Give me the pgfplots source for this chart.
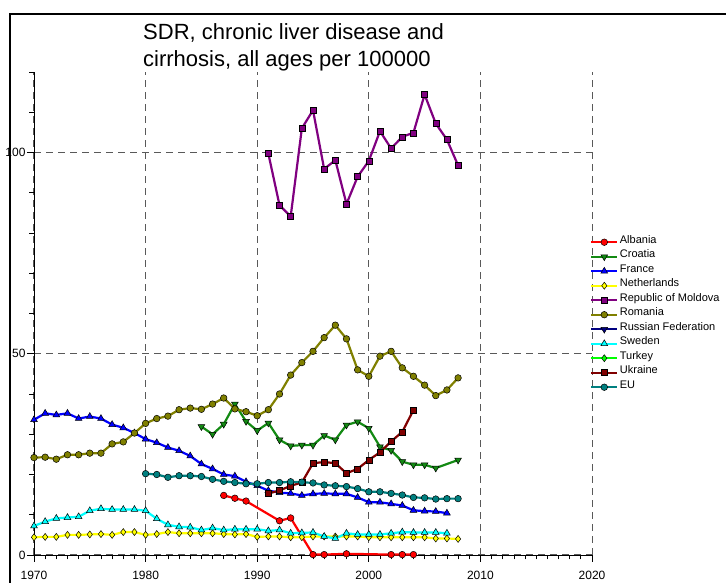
\documentclass[border=0pt]{standalone}
\usepackage{pgfplots}
\pgfplotsset{compat=1.18}
\usepackage{fontspec}
\setmainfont{Liberation Sans}
\definecolor{cAlb}{HTML}{FF0000}
\definecolor{cCro}{HTML}{138A13}
\definecolor{cFra}{HTML}{0000FF}
\definecolor{cNet}{HTML}{FFFF00}
\definecolor{cMol}{HTML}{800080}
\definecolor{cRom}{HTML}{808000}
\definecolor{cRus}{HTML}{000080}
\definecolor{cSwe}{HTML}{00FFFF}
\definecolor{cTur}{HTML}{00FF00}
\definecolor{cUkr}{HTML}{800000}
\definecolor{cEU}{HTML}{008080}
\pgfplotsset{mk/.style={mark options={solid, draw=black, line width=0.5pt, fill=#1}},
  mkd/.style={mark options={solid, draw=black, line width=0.5pt, fill=#1, rotate=180}}}
\newcommand{\tl}{\fontsize{12}{14}\selectfont}
\begin{document}
\begin{tikzpicture}
\useasboundingbox (-34pt,-28pt) rectangle (692pt,555pt);
\begin{axis}[
  scale only axis, width=558pt, height=483pt,
  xmin=1970, xmax=2020, ymin=0, ymax=120,
  axis x line=bottom, axis y line=left,
  axis line style={-, black, line width=0.8pt},
  xtick={1970,1980,...,2020}, minor x tick num=9,
  ytick={0,50,100}, minor ytick={10,20,30,40,60,70,80,90,110,120},
  xticklabels={{\tl 1970},{\tl 1980},{\tl 1990},{\tl 2000},{\tl 2010},{\tl 2020}},
  yticklabels={{\tl 0},{\tl 50},{\tl 100}},
  tick align=outside, major tick length=7pt, minor tick length=4.5pt,
  tick style={black, line width=0.7pt},
  xmajorgrids, ymajorgrids,
  major grid style={dash pattern=on 7pt off 5pt, color=black!65, line width=1pt},
  xticklabel style={yshift=-6pt},
  yticklabel style={xshift=2pt},
  clip=false,
  legend style={draw=none, fill=none, at={(0.9964,0.6630)}, anchor=north west,
    inner sep=0pt, row sep=0pt, font=\fontsize{11}{12}\selectfont,
    nodes={inner ysep=0pt, inner xsep=1.5pt, text height=8.5pt, text depth=6pt}},
  legend cell align=left,
  legend image code/.code={\draw[mark repeat=2,mark phase=2] plot coordinates {(0pt,0pt) (13pt,0pt) (26pt,0pt)};},
  every axis plot/.append style={line width=2.2pt},
]
% Albania
\addplot[color=cAlb, mark=*, mark size=3.3pt, mk=cAlb] coordinates {
(1987,14.8) (1988,14.1) (1989,13.4) (1992,8.5) (1993,9.2) (1995,0.1) (1996,0.1) (1998,0.3) (2002,0.1) (2003,0.1) (2004,0.1)};
% Croatia
\addplot[color=cCro, mark=triangle*, mark size=3.9pt, mkd=cCro] coordinates {
(1985,31.9) (1986,30.0) (1987,32.5) (1988,37.5) (1989,33.2) (1990,30.9) (1991,32.8) (1992,28.6) (1993,27.1) (1994,27.3) (1995,27.3) (1996,29.7) (1997,28.6) (1998,32.3) (1999,33.1) (2000,31.5) (2001,26.9) (2002,26.0) (2003,23.2) (2004,22.4) (2005,22.4) (2006,21.6) (2008,23.6)};
% France
\addplot[color=cFra, mark=triangle*, mark size=3.9pt, mk=cFra] coordinates {
(1970,33.6) (1971,35.2) (1972,34.8) (1973,35.2) (1974,33.9) (1975,34.4) (1976,33.9) (1977,32.4) (1978,31.6) (1979,30.3) (1980,28.8) (1981,27.9) (1982,26.7) (1983,25.9) (1984,24.6) (1985,22.6) (1986,21.4) (1987,20.0) (1988,19.6) (1989,18.2) (1990,17.2) (1991,16.0) (1992,15.5) (1993,15.3) (1994,14.8) (1995,15.2) (1996,15.3) (1997,15.2) (1998,15.2) (1999,14.3) (2000,13.1) (2001,13.1) (2002,12.7) (2003,12.3) (2004,11.1) (2005,10.9) (2006,10.8) (2007,10.4)};
% Netherlands
\addplot[color=cNet, mark=diamond*, mark size=3.5pt, mk=cNet] coordinates {
(1970,4.4) (1971,4.5) (1972,4.5) (1973,5.0) (1974,5.0) (1975,5.1) (1976,5.2) (1977,5.0) (1978,5.7) (1979,5.7) (1980,5.0) (1981,5.2) (1982,5.7) (1983,5.4) (1984,5.4) (1985,5.4) (1986,5.4) (1987,5.2) (1988,5.1) (1989,5.2) (1990,4.5) (1991,4.6) (1992,4.6) (1993,4.4) (1994,4.4) (1995,4.6) (1996,4.6) (1997,4.6) (1998,4.6) (1999,4.6) (2000,4.4) (2001,4.4) (2002,4.4) (2003,4.4) (2004,4.4) (2005,4.4) (2006,4.1) (2007,4.1) (2008,4.0)};
% Moldova
\addplot[color=cMol, mark=square*, mark size=3pt, mk=cMol] coordinates {
(1991,99.7) (1992,86.9) (1993,84.1) (1994,106.0) (1995,110.5) (1996,95.9) (1997,98.1) (1998,87.2) (1999,94.0) (2000,97.9) (2001,105.3) (2002,101.0) (2003,103.9) (2004,104.9) (2005,114.4) (2006,107.2) (2007,103.2) (2008,96.8)};
% Romania
\addplot[color=cRom, mark=*, mark size=3.3pt, mk=cRom] coordinates {
(1970,24.2) (1971,24.3) (1972,23.8) (1973,24.9) (1974,24.9) (1975,25.3) (1976,25.3) (1977,27.6) (1978,28.1) (1979,30.3) (1980,32.7) (1981,33.9) (1982,34.5) (1983,36.1) (1984,36.5) (1985,36.2) (1986,37.5) (1987,39.0) (1988,36.3) (1989,35.6) (1990,34.6) (1991,36.1) (1992,40.0) (1993,44.7) (1994,47.8) (1995,50.6) (1996,54.0) (1997,57.1) (1998,53.7) (1999,46.0) (2000,44.4) (2001,49.4) (2002,50.6) (2003,46.5) (2004,44.4) (2005,42.2) (2006,39.6) (2007,41.0) (2008,44.0)};
% Russian Federation (legend only)
\addlegendimage{color=cRus, line width=2.2pt, mark=triangle*, mark size=3.9pt, mkd=cRus}
% Sweden
\addplot[color=cSwe, mark=triangle*, mark size=3.9pt, mk=cSwe] coordinates {
(1970,7.2) (1971,8.3) (1972,9.1) (1973,9.3) (1974,9.5) (1975,11.0) (1976,11.5) (1977,11.3) (1978,11.3) (1979,11.3) (1980,11.0) (1981,9.0) (1982,7.5) (1983,7.0) (1984,6.9) (1985,6.2) (1986,6.7) (1987,6.2) (1988,6.4) (1989,6.4) (1990,6.4) (1991,6.0) (1992,6.2) (1993,5.4) (1994,5.5) (1995,5.6) (1996,4.6) (1997,4.1) (1998,5.4) (1999,5.1) (2000,5.1) (2001,5.1) (2002,5.4) (2003,5.7) (2004,5.6) (2005,5.6) (2006,5.6) (2007,5.4)};
% Turkey (legend only)
\addlegendimage{color=cTur, line width=2.2pt, mark=diamond*, mark size=3.5pt, mk=cTur}
% Ukraine
\addplot[color=cUkr, mark=square*, mark size=3pt, mk=cUkr] coordinates {
(1991,15.3) (1992,16.0) (1993,17.2) (1994,18.0) (1995,22.8) (1996,23.1) (1997,22.8) (1998,20.3) (1999,21.4) (2000,23.6) (2001,25.5) (2002,28.2) (2003,30.6) (2004,36.0)};
% EU
\addplot[color=cEU, mark=*, mark size=3.3pt, mk=cEU] coordinates {
(1980,20.2) (1981,20.0) (1982,19.3) (1983,19.7) (1984,19.7) (1985,19.5) (1986,18.8) (1987,18.3) (1988,18.0) (1989,17.7) (1990,17.7) (1991,18.0) (1992,18.0) (1993,18.2) (1994,18.1) (1995,17.9) (1996,17.4) (1997,17.2) (1998,17.0) (1999,16.5) (2000,15.7) (2001,15.7) (2002,15.3) (2003,14.9) (2004,14.3) (2005,14.2) (2006,13.9) (2007,14.0) (2008,14.0)};
\legend{Albania,Croatia,France,Netherlands,Republic of Moldova,Romania,Russian Federation,Sweden,Turkey,Ukraine,EU}
\end{axis}
\draw[black, line width=1.6pt] (-24pt,-30pt) -- (-24pt,541pt) -- (694pt,541pt);
\node[anchor=base west, inner sep=0pt, font=\fontsize{22}{26}\selectfont] at (109pt,515.5pt) {SDR, chronic liver disease and};
\node[anchor=base west, inner sep=0pt, font=\fontsize{22}{26}\selectfont] at (109pt,488.5pt) {cirrhosis, all ages per 100000};
\end{tikzpicture}
\end{document}
